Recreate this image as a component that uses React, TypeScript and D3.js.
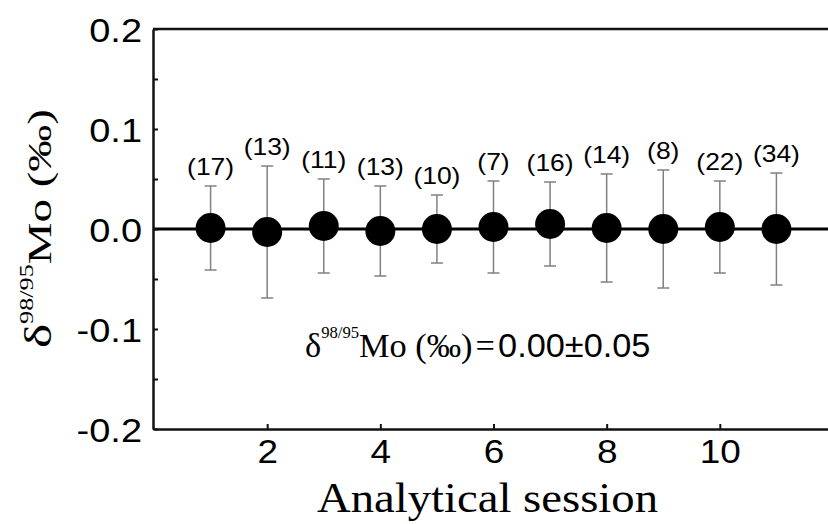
import React, { useEffect, useRef } from 'react';
import * as d3 from 'd3';

// analytical sessions and their mean delta98/95Mo (per mil) with 2SD
const sessions = [1, 2, 3, 4, 5, 6, 7, 8, 9, 10, 11];
const means = [0.001, -0.003, 0.003, -0.002, 0.0, 0.002, 0.005, 0.001, 0.0, 0.002, 0.0];
const errs = [0.042, 0.066, 0.047, 0.045, 0.034, 0.046, 0.042, 0.054, 0.059, 0.046, 0.056];
const counts = ['(17)', '(13)', '(11)', '(13)', '(10)', '(7)', '(16)', '(14)', '(8)', '(22)', '(34)'];

const yMajorTicks = [-0.2, -0.1, 0, 0.1, 0.2];
const yMinorTicks = [-0.15, -0.05, 0.05, 0.15];
const xTicks = [2, 4, 6, 8, 10];

const overallMean = 0.0;
const overall2SD = 0.05;

const width = 828;
const height = 524;

const sans = '"Liberation Sans", Arial, sans-serif';
const serif = '"Liberation Serif", "Times New Roman", serif';

export default function App() {
    const ref = useRef<SVGSVGElement>(null);

    useEffect(() => {
        const svg = d3.select(ref.current);
        svg.selectAll('*').remove();

        const left = 153;
        const x = d3.scaleLinear().domain([0, 12]).range([154, 833]);
        const y = d3.scaleLinear().domain([-0.2, 0.2]).range([429, 29]);

        // top frame line
        svg.append('line')
            .attr('x1', left).attr('x2', width)
            .attr('y1', y(0.2)).attr('y2', y(0.2))
            .attr('stroke', '#111').attr('stroke-width', 2.5);

        // zero line
        svg.append('line')
            .attr('x1', left).attr('x2', width)
            .attr('y1', y(0)).attr('y2', y(0))
            .attr('stroke', '#000').attr('stroke-width', 3);

        // y axis
        const gy = svg.append('g')
            .attr('transform', `translate(${left},0)`)
            .call(d3.axisLeft(y).tickValues(yMajorTicks).tickSize(-5).tickSizeOuter(0)
                .tickFormat(d => (+d).toFixed(1)));
        gy.select('.domain').attr('stroke', '#111').attr('stroke-width', 2.5);
        gy.selectAll('.tick line').attr('stroke', '#111').attr('stroke-width', 2);
        gy.selectAll('.tick text')
            .attr('x', null).attr('dy', null)
            .attr('transform', 'translate(-11,12) scale(1.15,1)')
            .attr('font-family', sans).attr('font-size', 33).attr('fill', '#000');

        const gyMinor = svg.append('g')
            .attr('transform', `translate(${left},0)`)
            .call(d3.axisLeft(y).tickValues(yMinorTicks).tickSize(-5).tickFormat(() => ''));
        gyMinor.select('.domain').remove();
        gyMinor.selectAll('.tick line').attr('stroke', '#111').attr('stroke-width', 2);

        // x axis
        const gx = svg.append('g')
            .attr('transform', `translate(0,${y(-0.2)})`)
            .call(d3.axisBottom(x).tickValues(xTicks).tickSize(-5).tickSizeOuter(0));
        gx.select('.domain').attr('stroke', '#111').attr('stroke-width', 2.5);
        gx.selectAll('.tick line').attr('stroke', '#111').attr('stroke-width', 2);
        gx.selectAll('.tick text')
            .attr('y', null).attr('dy', null)
            .attr('transform', 'translate(0,34) scale(1.12,1)')
            .attr('font-family', sans).attr('font-size', 33).attr('fill', '#000');

        const data = sessions.map((s, i) => ({ s, m: means[i], e: errs[i], n: counts[i] }));

        // error bars
        const bars = svg.append('g').attr('stroke', '#808080').attr('stroke-width', 1.5);
        bars.selectAll('line.v').data(data).enter().append('line')
            .attr('x1', d => x(d.s)).attr('x2', d => x(d.s))
            .attr('y1', d => y(d.m + d.e)).attr('y2', d => y(d.m - d.e));
        bars.selectAll('line.t').data(data).enter().append('line')
            .attr('x1', d => x(d.s) - 6).attr('x2', d => x(d.s) + 6)
            .attr('y1', d => y(d.m + d.e)).attr('y2', d => y(d.m + d.e));
        bars.selectAll('line.b').data(data).enter().append('line')
            .attr('x1', d => x(d.s) - 6).attr('x2', d => x(d.s) + 6)
            .attr('y1', d => y(d.m - d.e)).attr('y2', d => y(d.m - d.e));

        // points
        svg.append('g').selectAll('circle').data(data).enter().append('circle')
            .attr('cx', d => x(d.s)).attr('cy', d => y(d.m))
            .attr('r', 15).attr('fill', '#000');

        // counts
        svg.append('g').selectAll('g').data(data).enter().append('g')
            .attr('transform', d => `translate(${x(d.s)},${y(d.m + d.e) - 11}) scale(1.15,1)`)
            .append('text')
            .attr('text-anchor', 'middle')
            .attr('font-family', sans).attr('font-size', 23).attr('fill', '#000')
            .text(d => d.n);

        // overall result
        const note = svg.append('g')
            .attr('transform', 'translate(305,357) scale(1.04,1)')
            .append('text').attr('font-family', serif).attr('font-size', 33).attr('fill', '#000');
        note.append('tspan').text('δ');
        note.append('tspan').attr('font-size', 16).attr('dy', -19).text('98/95');
        note.append('tspan').attr('dy', 19).text('Mo (‰)');
        note.append('tspan').attr('dx', 3).text('=');
        note.append('tspan').attr('dx', 3).attr('font-family', sans)
            .text(`${overallMean.toFixed(2)}±${overall2SD.toFixed(2)}`);

        // y title
        const yt = svg.append('g')
            .attr('transform', 'translate(51,348) rotate(-90) scale(1.38,1)')
            .append('text')
            .attr('font-family', serif).attr('font-size', 34).attr('fill', '#000');
        yt.append('tspan').attr('font-size', 37).text('δ');
        yt.append('tspan').attr('font-size', 19).attr('dy', -18).text('98/95');
        yt.append('tspan').attr('dy', 18).text('Mo (‰)');

        // x title
        svg.append('text')
            .attr('x', 487.5).attr('y', 512)
            .attr('text-anchor', 'middle')
            .attr('textLength', 341).attr('lengthAdjust', 'spacingAndGlyphs')
            .attr('font-family', serif).attr('font-size', 42).attr('fill', '#000')
            .text('Analytical session');
    }, []);

    return (
        <svg ref={ref} width={width} height={height}
            style={{ position: 'absolute', left: 0, top: 0, background: '#fff' }} />
    );
}
